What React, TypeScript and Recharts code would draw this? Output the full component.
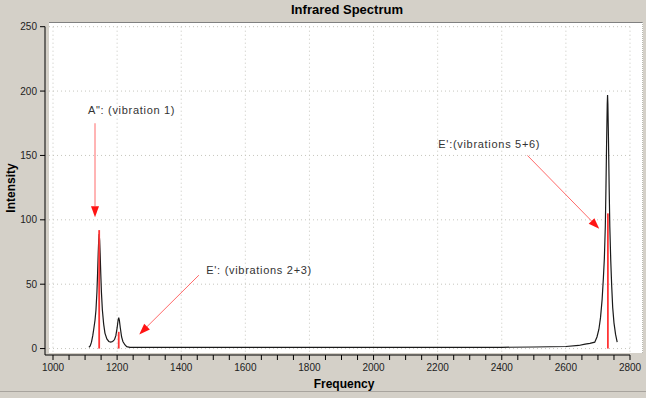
import React from 'react';
import {
    ComposedChart,
    Line,
    XAxis,
    YAxis,
    CartesianGrid,
    ReferenceLine,
    ReferenceDot,
} from 'recharts';

// spectrum trace (frequency, intensity)
const spectrumFreq = [
    1112, 1116, 1120, 1124, 1127, 1131, 1134, 1137, 1139, 1141, 1142.5, 1144, 1145.5, 1147, 1149, 1151, 1154,
    1158, 1162, 1168, 1174, 1180, 1186, 1192, 1196, 1200, 1203, 1205, 1207, 1210, 1214, 1218, 1224, 1230, 1240,
    1400, 1600, 1800, 2000, 2200, 2400, 2500, 2600, 2640, 2660, 2675, 2690, 2697, 2703, 2708, 2713, 2717, 2720,
    2723, 2725, 2727, 2729, 2730, 2731, 2733, 2735, 2737, 2740, 2743, 2746, 2750, 2755, 2760,
];
const spectrumIntensity = [
    1, 2, 5, 10, 15, 22, 30, 44, 58, 74, 84, 89, 84, 74, 58, 44, 30,
    19, 12, 7.5, 5.5, 5, 5.5, 7, 10, 16, 22, 24, 22, 16, 9, 5.5, 3, 1.5, 1,
    1, 1, 1, 1, 1, 1, 1.2, 1.6, 2.4, 3.4, 4, 5, 9, 15, 24, 38, 55, 70,
    95, 125, 160, 190, 197, 190, 160, 125, 95, 68, 48, 32, 20, 11, 5,
];

// computed modes (red sticks)
const stickFreq = [1144, 1205, 2731];
const stickIntensity = [92, 13, 105];

// annotations
const annotationText = ['A": (vibration 1)', "E': (vibrations 2+3)", "E':(vibrations 5+6)"];
const annotationPos = [
    { x: 1245, y: 185 },
    { x: 1643, y: 61 },
    { x: 2361, y: 159 },
];
const arrowTail = [
    { x: 1131, y: 175 },
    { x: 1455, y: 57 },
    { x: 2480, y: 150 },
];
const arrowTip = [
    { x: 1131, y: 102 },
    { x: 1269, y: 11 },
    { x: 2704, y: 93 },
];

const xTicks = [
    1000, 1050, 1100, 1150, 1200, 1250, 1300, 1350, 1400, 1450, 1500, 1550, 1600, 1650, 1700, 1750, 1800, 1850,
    1900, 1950, 2000, 2050, 2100, 2150, 2200, 2250, 2300, 2350, 2400, 2450, 2500, 2550, 2600, 2650, 2700, 2750, 2800,
];
const xGrid = [1000, 1200, 1400, 1600, 1800, 2000, 2200, 2400, 2600, 2800];
const yTicks = [0, 50, 100, 150, 200, 250];

const spectrum = spectrumFreq.map((f, i) => ({ x: f, y: spectrumIntensity[i] }));

const FONT = '"Liberation Sans", Arial, sans-serif';

function Arrow(props: any) {
    const { x1, y1, x2, y2 } = props;
    const dx = x2 - x1;
    const dy = y2 - y1;
    const len = Math.sqrt(dx * dx + dy * dy) || 1;
    const ux = dx / len;
    const uy = dy / len;
    const head = 11;
    const half = 4;
    const bx = x2 - ux * head;
    const by = y2 - uy * head;
    const pts = `${x2},${y2} ${bx - uy * half},${by + ux * half} ${bx + uy * half},${by - ux * half}`;
    return (
        <g>
            <line x1={x1} y1={y1} x2={bx} y2={by} stroke="#ff6a6a" strokeWidth={1} />
            <polygon points={pts} fill="#ff1414" />
        </g>
    );
}

export default function App() {
    return (
        <div
            style={{
                position: 'fixed',
                left: 0,
                top: 0,
                width: 646,
                height: 398,
                background: '#d4d0c8',
                fontFamily: FONT,
                overflow: 'hidden',
            }}
        >
            <div
                style={{
                    position: 'absolute',
                    left: 49,
                    top: 22,
                    width: 593,
                    height: 330,
                    background: '#ffffff',
                    borderTop: '1px solid #808080',
                    borderRight: '1px dotted #b8b8b0',
                }}
            />
            <div
                style={{
                    position: 'absolute',
                    left: 247,
                    top: 1,
                    width: 200,
                    textAlign: 'center',
                    fontSize: 13,
                    fontWeight: 'bold',
                    lineHeight: '18px',
                    color: '#000',
                }}
            >
                Infrared Spectrum
            </div>
            <div
                style={{
                    position: 'absolute',
                    left: 294,
                    top: 376,
                    width: 100,
                    textAlign: 'center',
                    fontSize: 12,
                    fontWeight: 'bold',
                    lineHeight: '16px',
                    color: '#000',
                }}
            >
                Frequency
            </div>
            <div
                style={{
                    position: 'absolute',
                    left: -39,
                    top: 180,
                    width: 100,
                    textAlign: 'center',
                    fontSize: 12,
                    fontWeight: 'bold',
                    lineHeight: '16px',
                    color: '#000',
                    transform: 'rotate(-90deg)',
                }}
            >
                Intensity
            </div>
            <div style={{ position: 'absolute', left: 0, top: 391, width: 646, height: 1, background: '#a8a49e' }} />

            <ComposedChart
                width={646}
                height={398}
                style={{ position: 'absolute', left: 0, top: 0 }}
                margin={{ top: 26.7, right: 16, bottom: 7, left: 0 }}
            >
                <CartesianGrid
                    stroke="#c6c6be"
                    strokeDasharray="1 3"
                    verticalValues={xGrid}
                    horizontalValues={yTicks}
                />
                <XAxis
                    type="number"
                    dataKey="x"
                    domain={[975, 2800]}
                    allowDataOverflow
                    ticks={xTicks}
                    interval={0}
                    height={36}
                    tickSize={5}
                    tickMargin={4}
                    stroke="#000"
                    tickFormatter={(v: number) => (v % 200 === 0 ? String(v) : '')}
                    tick={{ fill: '#222', fontSize: 10, fontFamily: FONT }}
                />
                <YAxis
                    type="number"
                    domain={[-5, 250]}
                    allowDataOverflow
                    ticks={yTicks}
                    interval={0}
                    width={45}
                    tickSize={5}
                    tickMargin={3}
                    stroke="#000"
                    tick={{ fill: '#222', fontSize: 10, fontFamily: FONT }}
                />
                <Line
                    data={spectrum}
                    dataKey="y"
                    type="linear"
                    stroke="#1a1a1a"
                    strokeWidth={1.2}
                    dot={false}
                    activeDot={false}
                    isAnimationActive={false}
                />
                {stickFreq.map((f, i) => (
                    <ReferenceLine
                        key={`stick-${i}`}
                        segment={[
                            { x: f, y: 0 },
                            { x: f, y: stickIntensity[i] },
                        ]}
                        stroke="#ff3434"
                        strokeWidth={1.8}
                    />
                ))}
                {arrowTail.map((t, i) => (
                    <ReferenceLine
                        key={`arrow-${i}`}
                        segment={[t, arrowTip[i]]}
                        shape={(p: any) => <Arrow {...p} />}
                    />
                ))}
                {annotationPos.map((p, i) => (
                    <ReferenceDot
                        key={`note-${i}`}
                        x={p.x}
                        y={p.y}
                        r={2}
                        ifOverflow="visible"
                        shape={(s: any) => (
                            <text
                                x={s.cx}
                                y={s.cy}
                                textAnchor="middle"
                                dominantBaseline="central"
                                fontSize={11}
                                letterSpacing={0.7}
                                fontFamily={FONT}
                                fill="#333"
                            >
                                {annotationText[i]}
                            </text>
                        )}
                    />
                ))}
            </ComposedChart>
        </div>
    );
}
